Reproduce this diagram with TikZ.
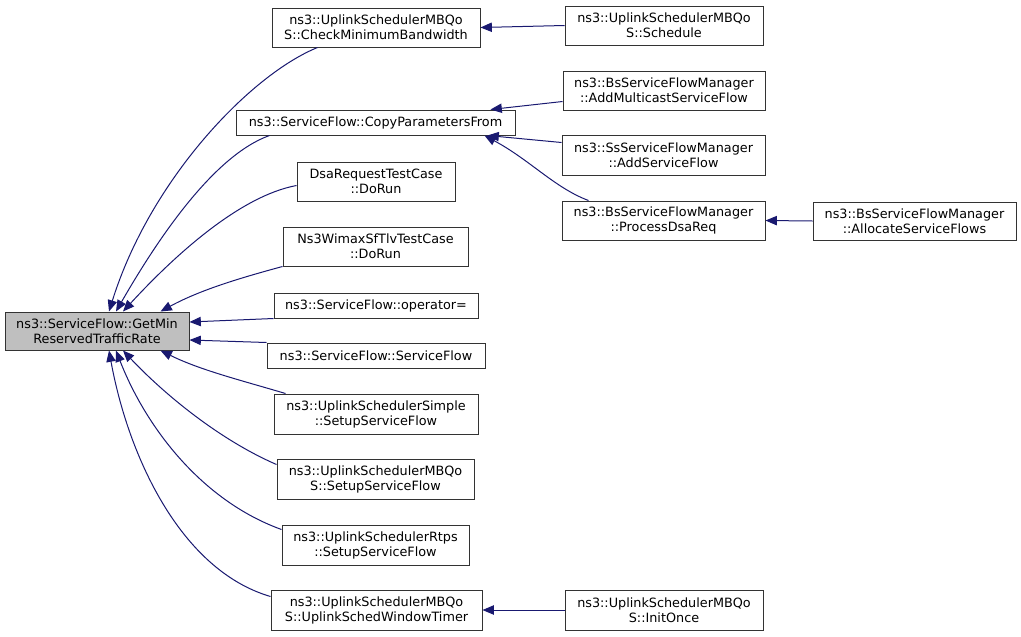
\documentclass[tikz,border=0pt]{standalone}
\usepackage{fontspec}
\setmainfont{DejaVu Sans}
\usetikzlibrary{arrows.meta,calc}
\definecolor{edgec}{HTML}{191970}
\definecolor{mainfill}{HTML}{BFBFBF}
\begin{document}
\begin{tikzpicture}[x=0.75pt,y=-0.75pt,
  box/.style 2 args={draw=black!80, line width=0.75pt, rectangle, inner sep=0pt,
    minimum width=#1*0.75pt, minimum height=#2*0.75pt, align=center,
    font=\fontsize{9.6}{11.25}\selectfont},
  edge/.style={draw=edgec, line width=0.75pt, -{Triangle[length=8.5pt,width=7pt]}, fill=none}]
\useasboundingbox (0,0) rectangle (1021,636);
% nodes
\node[box={184}{38}, fill=mainfill] (main) at (97,331) {ns3::ServiceFlow::GetMin\\ReservedTrafficRate};
\node[box={208}{39}] (cmb) at (376,27.5) {ns3::UplinkSchedulerMBQo\\S::CheckMinimumBandwidth};
\node[box={279}{25}] (cpf) at (375.5,122.5) {ns3::ServiceFlow::CopyParametersFrom};
\node[box={158}{39}] (dsa) at (376,181.5) {DsaRequestTestCase\\::DoRun};
\node[box={185}{39}] (nsw) at (375.5,246.5) {Ns3WimaxSfTlvTestCase\\::DoRun};
\node[box={204}{25}] (op) at (376,305.5) {ns3::ServiceFlow::operator=};
\node[box={218}{25}] (sf) at (376,355.5) {ns3::ServiceFlow::ServiceFlow};
\node[box={204}{40}] (uss) at (376,414) {ns3::UplinkSchedulerSimple\\::SetupServiceFlow};
\node[box={197}{40}] (mbs) at (375.5,479) {ns3::UplinkSchedulerMBQo\\S::SetupServiceFlow};
\node[box={187}{40}] (rtp) at (375.5,545) {ns3::UplinkSchedulerRtps\\::SetupServiceFlow};
\node[box={211}{40}] (swt) at (376.5,610) {ns3::UplinkSchedulerMBQo\\S::UplinkSchedWindowTimer};
\node[box={198}{39}] (sch) at (664,25.5) {ns3::UplinkSchedulerMBQo\\S::Schedule};
\node[box={202}{39}] (ams) at (664,90.5) {ns3::BsServiceFlowManager\\::AddMulticastServiceFlow};
\node[box={203}{40}] (asf) at (663.5,155) {ns3::SsServiceFlowManager\\::AddServiceFlow};
\node[box={203}{39}] (pdr) at (663.5,220.5) {ns3::BsServiceFlowManager\\::ProcessDsaReq};
\node[box={203}{38}] (all) at (914.5,221) {ns3::BsServiceFlowManager\\::AllocateServiceFlows};
\node[box={198}{40}] (ini) at (664,610) {ns3::UplinkSchedulerMBQo\\S::InitOnce};
% edges into main
\draw[edge] ($(cmb.south west)+(46,0)$) .. controls (250,75) and (150,180) .. ($(main.north)+(12,0)$);
\draw[edge] ($(cpf.south west)+(34,0)$) .. controls (215,155) and (160,235) .. ($(main.north)+(19,0)$);
\draw[edge] ($(dsa.west)+(0,4)$) .. controls (240,196) and (175,255) .. ($(main.north)+(26,0)$);
\draw[edge] ($(nsw.south west)+(0,0)$) .. controls (240,278) and (200,290) .. ($(main.north east)+(-29,0)$);
\draw[edge] (op.south west) -- ($(main.east)+(0,-9)$);
\draw[edge] (sf.north west) -- ($(main.east)+(0,9)$);
\draw[edge] ($(uss.north west)+(12,0)$) .. controls (240,380) and (200,370) .. ($(main.south east)+(-29,0)$);
\draw[edge] ($(mbs.north west)+(0,6)$) .. controls (220,440) and (165,395) .. ($(main.south)+(26,0)$);
\draw[edge] ($(rtp.north west)+(0,5)$) .. controls (200,500) and (145,425) .. ($(main.south)+(19,0)$);
\draw[edge] ($(swt.north west)+(0,7)$) .. controls (180,570) and (128,455) .. ($(main.south)+(12,0)$);
% edges on the right
\draw[edge] (sch.west) -- (cmb.east);
\draw[edge] ($(ams.west)+(0,11)$) -- ($(cpf.north east)+(-25,0)$);
\draw[edge] ($(asf.north west)+(0,8)$) -- ($(cpf.south east)+(-28,0)$);
\draw[edge] ($(pdr.north west)+(27,0)$) .. controls (555,188) and (530,160) .. ($(cpf.south east)+(-31,0)$);
\draw[edge] (all.west) -- (pdr.east);
\draw[edge] (ini.west) -- (swt.east);
\end{tikzpicture}
\end{document}
